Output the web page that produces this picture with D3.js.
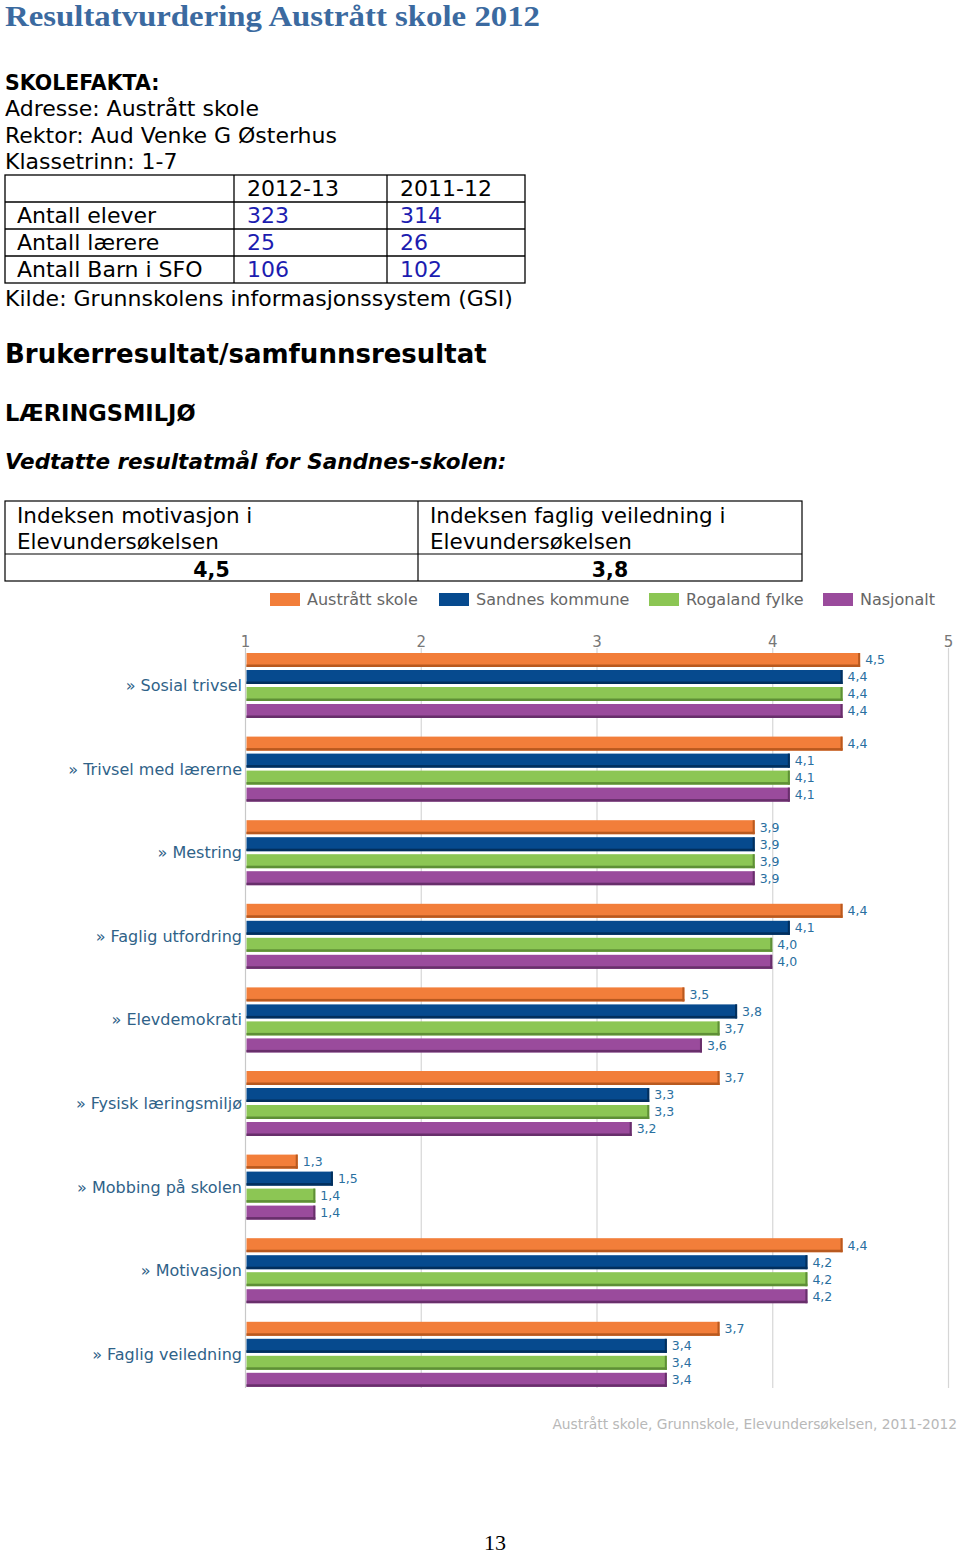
<!DOCTYPE html>
<html>
<head>
<meta charset="utf-8">
<script src="https://cdn.jsdelivr.net/npm/d3@7/dist/d3.min.js"></script>
<style>
html,body{margin:0;padding:0;background:#fff;}
svg{display:block;}
</style>
</head>
<body>
<svg id="page" width="960" height="1554"></svg>
<script>
// ---------- data ----------
const categories = ["Sosial trivsel","Trivsel med lærerne","Mestring","Faglig utfordring","Elevdemokrati","Fysisk læringsmiljø","Mobbing på skolen","Motivasjon","Faglig veiledning"];
const seriesNames = ["Austrått skole","Sandnes kommune","Rogaland fylke","Nasjonalt"];
const austratt  = [4.5,4.4,3.9,4.4,3.5,3.7,1.3,4.4,3.7];
const sandnes   = [4.4,4.1,3.9,4.1,3.8,3.3,1.5,4.2,3.4];
const rogaland  = [4.4,4.1,3.9,4.0,3.7,3.3,1.4,4.2,3.4];
const nasjonalt = [4.4,4.1,3.9,4.0,3.6,3.2,1.4,4.2,3.4];
const axisTicks = [1,2,3,4,5];

const factRows = ["Antall elever","Antall lærere","Antall Barn i SFO"];
const factYears = ["2012-13","2011-12"];
const facts2012 = [323,25,106];
const facts2011 = [314,26,102];

const goalLabels = [["Indeksen motivasjon i","Elevundersøkelsen"],["Indeksen faglig veiledning i","Elevundersøkelsen"]];
const goalValues = ["4,5","3,8"];

const colors = ["#f27e3a","#064a8e","#8cc654","#9a4b9c"];
const darkColors = ["#b8591f","#022f5d","#5e8f36","#682f6b"];

const svg = d3.select("#page");
const sans = "'DejaVu Sans', Verdana, sans-serif";

// ---------- header ----------
svg.append("text").attr("x",5).attr("y",26).attr("font-family","'Liberation Serif', serif")
  .attr("font-weight","bold").attr("font-size",30).attr("fill","#3b6aa0")
  .attr("textLength",535).attr("lengthAdjust","spacingAndGlyphs")
  .text("Resultatvurdering Austrått skole 2012");

svg.append("text").attr("x",5).attr("y",90).attr("font-family",sans).attr("font-weight","bold")
  .attr("font-size",20.5).attr("fill","#000").text("SKOLEFAKTA:");
["Adresse: Austrått skole","Rektor: Aud Venke G Østerhus","Klassetrinn: 1-7"].forEach((t,i)=>{
  svg.append("text").attr("x",5).attr("y",116+i*26.5).attr("font-family",sans)
    .attr("font-size",22).attr("fill","#000").text(t);
});

// facts table
const tX=[5,234,387,525], tY=[175,202,229,256,283];
const tg = svg.append("g").attr("stroke","#000").attr("stroke-width",1.3).attr("fill","none");
tg.append("rect").attr("x",tX[0]).attr("y",tY[0]).attr("width",tX[3]-tX[0]).attr("height",tY[4]-tY[0]);
tY.slice(1,4).forEach(y=>tg.append("line").attr("x1",tX[0]).attr("x2",tX[3]).attr("y1",y).attr("y2",y));
[tX[1],tX[2]].forEach(x=>tg.append("line").attr("x1",x).attr("x2",x).attr("y1",tY[0]).attr("y2",tY[4]));
factYears.forEach((t,i)=>svg.append("text").attr("x",tX[i+1]+13).attr("y",196).attr("font-family",sans)
  .attr("font-size",22).attr("fill","#000").text(t));
factRows.forEach((r,i)=>{
  const y = 223+i*27;
  svg.append("text").attr("x",17).attr("y",y).attr("font-family",sans).attr("font-size",22).attr("fill","#000").text(r);
  svg.append("text").attr("x",247).attr("y",y).attr("font-family",sans).attr("font-size",22).attr("fill","#1c1cb0").text(facts2012[i]);
  svg.append("text").attr("x",400).attr("y",y).attr("font-family",sans).attr("font-size",22).attr("fill","#1c1cb0").text(facts2011[i]);
});
svg.append("text").attr("x",5).attr("y",306).attr("font-family",sans).attr("font-size",22).attr("fill","#000")
  .text("Kilde: Grunnskolens informasjonssystem (GSI)");

svg.append("text").attr("x",5).attr("y",363).attr("font-family",sans).attr("font-weight","bold")
  .attr("font-size",26).attr("fill","#000").text("Brukerresultat/samfunnsresultat");
svg.append("text").attr("x",5).attr("y",421).attr("font-family",sans).attr("font-weight","bold")
  .attr("font-size",22.5).attr("fill","#000").text("LÆRINGSMILJØ");
svg.append("text").attr("x",5).attr("y",469).attr("font-family",sans).attr("font-weight","bold")
  .attr("font-style","italic").attr("font-size",21.5).attr("fill","#000").text("Vedtatte resultatmål for Sandnes-skolen:");

// goal table
const gX=[5,418,802], gY=[501,554,581];
const gg = svg.append("g").attr("stroke","#000").attr("stroke-width",1.2).attr("fill","none");
gg.append("rect").attr("x",gX[0]).attr("y",gY[0]).attr("width",gX[2]-gX[0]).attr("height",gY[2]-gY[0]);
gg.append("line").attr("x1",gX[0]).attr("x2",gX[2]).attr("y1",gY[1]).attr("y2",gY[1]);
gg.append("line").attr("x1",gX[1]).attr("x2",gX[1]).attr("y1",gY[0]).attr("y2",gY[2]);
goalLabels.forEach((lines,i)=>{
  lines.forEach((t,j)=>svg.append("text").attr("x",gX[i]+12).attr("y",523+j*26).attr("font-family",sans)
    .attr("font-size",21.5).attr("fill","#000").text(t));
  svg.append("text").attr("x",(gX[i]+gX[i+1])/2).attr("y",577).attr("text-anchor","middle")
    .attr("font-family",sans).attr("font-weight","bold").attr("font-size",20.5).attr("fill","#000").text(goalValues[i]);
});

// ---------- chart ----------
const values = [austratt,sandnes,rogaland,nasjonalt];
const x = d3.scaleLinear().domain([1,5]).range([245,948]);
const y0 = d3.scaleBand().domain(categories).range([644.6,644.6+9*83.6]).paddingInner(0).paddingOuter(0);
const y1 = d3.scaleBand().domain(seriesNames).range([8.4,73.4]).paddingInner(3/17).paddingOuter(0);
const plotTop = 648, plotBottom = 1388;

// legend
const legX = [270,439,649,823];
seriesNames.forEach((s,i)=>{
  svg.append("rect").attr("x",legX[i]).attr("y",593).attr("width",30).attr("height",13).attr("fill",colors[i]);
  svg.append("text").attr("x",legX[i]+37).attr("y",605).attr("font-family",sans).attr("font-size",16)
    .attr("fill","#666").text(s);
});

// gridlines
svg.append("g").selectAll("line").data(axisTicks).join("line")
  .attr("x1",d=>x(d)+0.5).attr("x2",d=>x(d)+0.5).attr("y1",plotTop).attr("y2",plotBottom)
  .attr("stroke",d=>d===1?"#c8c8c8":"#d6d6d6").attr("stroke-width",1.2);

// top axis
const axis = d3.axisTop(x).tickValues(axisTicks).tickSize(0).tickPadding(0).tickFormat(d3.format("d"));
const ag = svg.append("g").attr("transform","translate(0,647)").call(axis);
ag.select(".domain").remove();
ag.selectAll("text").attr("font-family",sans).attr("font-size",15).attr("fill","#777").attr("dy","0");

// bars
const groups = svg.append("g").selectAll("g").data(categories).join("g")
  .attr("transform",c=>`translate(0,${y0(c)})`);
groups.each(function(c,ci){
  const g = d3.select(this);
  seriesNames.forEach((s,si)=>{
    const v = values[si][ci];
    const yy = y1(s), h = y1.bandwidth();
    const x0 = x(1)+1.5, w = x(v)-x0;
    g.append("rect").attr("x",x0).attr("y",yy).attr("width",w).attr("height",h).attr("fill",colors[si]);
    g.append("rect").attr("x",x0).attr("y",yy+h-2.5).attr("width",w).attr("height",2.5).attr("fill",darkColors[si]);
    g.append("rect").attr("x",x0+w-2).attr("y",yy).attr("width",2).attr("height",h).attr("fill",darkColors[si]);
    g.append("text").attr("x",x(v)+5).attr("y",yy+h/2+4.5).attr("font-family",sans).attr("font-size",12.5)
      .attr("fill","#2a6f9f").text(d3.format(".1f")(v).replace(".",","));
  });
  g.append("text").attr("x",242).attr("y",y1.range()[0]+ (y1.range()[1]-y1.range()[0])/2 + 5.5)
    .attr("text-anchor","end").attr("font-family",sans).attr("font-size",16).attr("fill","#2f6288")
    .text("» "+c);
});

// source
svg.append("text").attr("x",957).attr("y",1429).attr("text-anchor","end").attr("font-family",sans)
  .attr("font-size",13.8).attr("fill","#b8b8b8").text("Austrått skole, Grunnskole, Elevundersøkelsen, 2011-2012");

// page number
svg.append("text").attr("x",495).attr("y",1550).attr("text-anchor","middle").attr("font-family","'Liberation Serif', serif")
  .attr("font-size",22).attr("fill","#000").text("13");
</script>
</body>
</html>
